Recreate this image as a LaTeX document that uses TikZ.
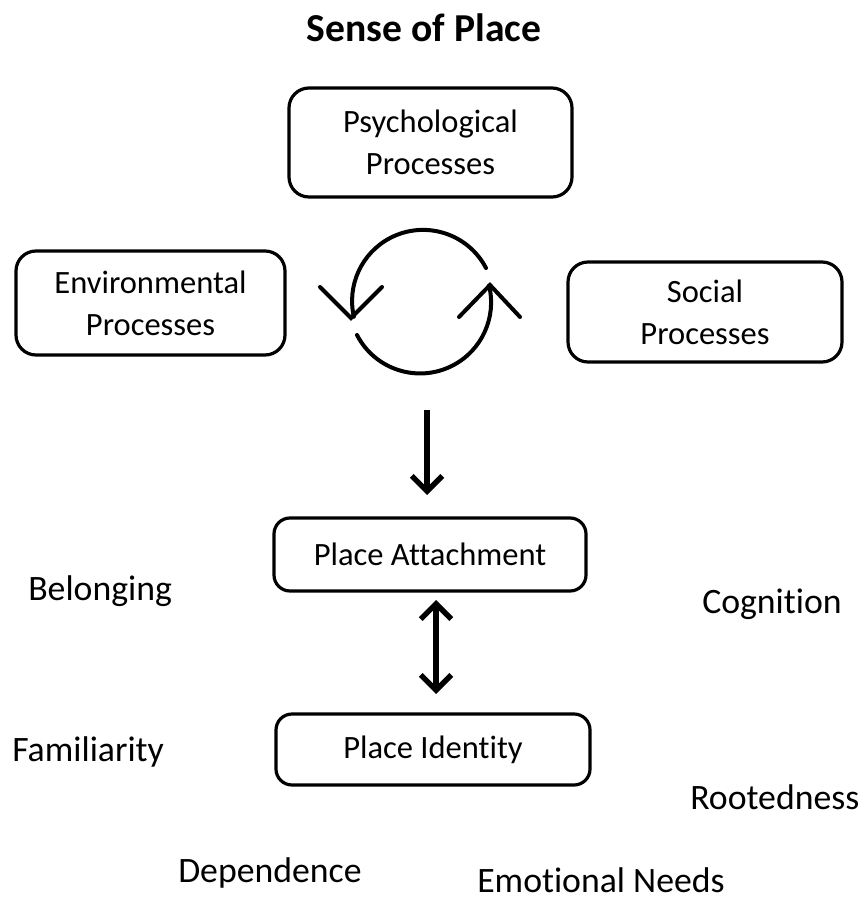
\documentclass[tikz,border=0pt]{standalone}
\usepackage{fontspec}
\setmainfont[Ligatures=NoCommon]{Carlito}
\usetikzlibrary{arrows.meta}
\begin{document}
\begin{tikzpicture}[x=0.75pt,y=-0.75pt,
  procbox/.style={draw,line width=2.4pt,rounded corners=15pt,align=center,
    font=\fontsize{24.4}{31.5}\selectfont,inner sep=0pt},
  label/.style={font=\fontsize{26.8}{30}\selectfont,inner sep=0pt},
  barb/.tip={Straight Barb[length=11.5pt,width=23pt,line width'=4pt]},
  flow/.style={line width=4pt,-barb},
  cyc/.style={line width=3pt,line cap=round,line join=miter}]
\useasboundingbox (0,0) rectangle (862,898);
% title
\node[font=\fontsize{29.7}{34}\selectfont\bfseries] (title) at (424,28) {Sense of Place};
% process boxes
\node[procbox,minimum width=283*0.75pt,minimum height=109*0.75pt] (psy) at (430.5,142.5) {Psychological\\Processes};
\node[procbox,minimum width=269*0.75pt,minimum height=104*0.75pt] (env) at (150.5,303) {Environmental\\Processes};
\node[procbox,minimum width=274*0.75pt,minimum height=100*0.75pt] (soc) at (705,312) {Social\\Processes};
% cycle symbol: two arcs with open chevron heads
\coordinate (ustart) at (486,268);
\coordinate (ltip) at (351,318);
\draw[cyc] (ustart) arc[start angle=-27.6,end angle=-192.9,radius=71];
\draw[cyc] (320,287) -- (ltip) -- (382,287);
\coordinate (lstart) at (357,335);
\coordinate (rtip) at (490,285);
\draw[cyc] (lstart) arc[start angle=-207.3,end angle=-373.8,radius=71];
\draw[cyc] (459,317) -- (rtip) -- (520,317);
% lower boxes
\node[procbox,minimum width=312*0.75pt,minimum height=73*0.75pt,rounded corners=12pt] (att) at (430,554.5) {Place Attachment};
\node[procbox,minimum width=314*0.75pt,minimum height=71*0.75pt,rounded corners=12pt] (ide) at (433,749.5) {Place Identity};
% arrows
\coordinate (dstart) at (427,410);
\coordinate (dend) at (427,495);
\draw[flow] (dstart) -- (dend);
\coordinate (btop) at (436,600);
\coordinate (bbot) at (436,694);
\draw[line width=4pt,barb-barb] (btop) -- (bbot);
% surrounding terms
\node[label,anchor=west] (bel) at (28,591) {Belonging};
\node[label,anchor=west] (cog) at (702,604) {Cognition};
\node[label,anchor=west] (fam) at (12,752) {Familiarity};
\node[label,anchor=west] (roo) at (690,797) {Rootedness};
\node[label,anchor=west] (dep) at (178,873) {Dependence};
\node[label,anchor=west] (emo) at (477,880) {Emotional Needs};
\end{tikzpicture}
\end{document}
